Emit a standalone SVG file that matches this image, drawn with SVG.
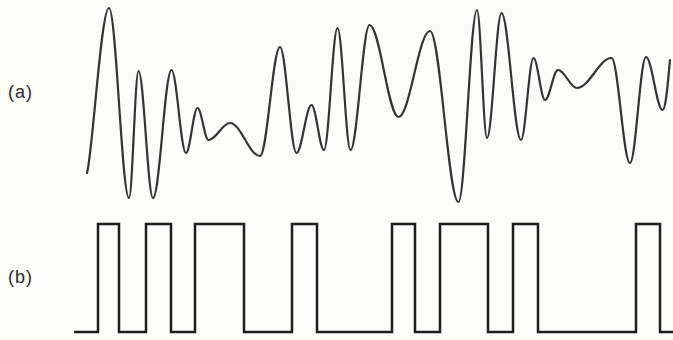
<svg xmlns="http://www.w3.org/2000/svg" width="673" height="340" viewBox="0 0 673 340">
<style>
.lbl{font-family:"Liberation Sans",Arial,sans-serif;font-size:18px;fill:#2a2a2a;letter-spacing:1px}
.wave{fill:none;stroke:#333;stroke-width:2.2;stroke-linecap:round;stroke-linejoin:round}
.sq{fill:none;stroke:#1e1e1e;stroke-width:2.5;stroke-linejoin:miter}
</style>
<rect width="673" height="340" fill="#fdfdf8"/>
<g id="label-a"><text class="lbl" x="8" y="98">(a)</text></g>
<g id="label-b"><text class="lbl" x="8" y="283">(b)</text></g>
<g id="waveform-a">
<path class="wave" d="M 87 173 C 93 150 101 8 109 8
C 116.2 8 121.8 198 129 198
C 132.4 198 135.1 71 138.5 71
C 143.7 71 147.8 198 153 198
C 159.7 198 164.8 70 171.5 70
C 176.7 70 180.8 153 186 153
C 190.1 153 193.4 108 197.5 108
C 201.5 108 204.5 140 208.5 140
C 216.2 140 222.3 123 230 123
C 240.8 123 249.2 156 260 156
C 267.2 156 272.8 47 280 47
C 285.9 47 290.6 153 296.5 153
C 301.9 153 306.1 105 311.5 105
C 316 105 319.5 150 324 150
C 328.9 150 332.6 28 337.5 28
C 342.2 28 345.8 150 350.5 150
C 357.3 150 362.7 25 369.5 25
C 379.9 25 388.1 117 398.5 117
C 409.8 117 418.7 31 430 31
C 440.3 31 448.2 202 458.5 202
C 465.2 202 470.3 10 477 10
C 480.6 10 483.4 138 487 138
C 492.2 138 496.3 13 501.5 13
C 508.5 13 514 140 521 140
C 525.5 140 529 58 533.5 58
C 537.6 58 540.9 100 545 100
C 549.7 100 553.3 70 558 70
C 564.8 70 570.2 88 577 88
C 589.4 88 599.1 58 611.5 58
C 618.2 58 623.3 163 630 163
C 635.8 163 640.2 57 646 57
C 651.9 57 656.6 110 662.5 110
C 666 110 668 80 670 60"/>
</g>
<g id="squarewave-b">
<path class="sq" d="M 74 332 H 98 V 224 H 119 V 332 H 146 V 224 H 171 V 332 H 195 V 224 H 244 V 332 H 292 V 224 H 317 V 332 H 392 V 224 H 415 V 332 H 440 V 224 H 488 V 332 H 513 V 224 H 538 V 332 H 636 V 224 H 660 V 332 H 673"/>
</g>
</svg>
